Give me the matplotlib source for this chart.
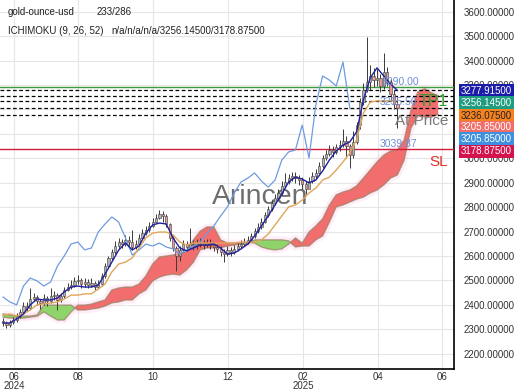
import numpy as np
import matplotlib
matplotlib.use("Agg")
import matplotlib.pyplot as plt

plt.rcParams['font.family'] = ['Liberation Sans', 'DejaVu Sans']

# candles, one per 2 bars (open = previous close)
first_open = 2335
closes = [2326, 2318, 2330, 2338, 2354, 2371, 2395, 2387, 2424, 2432,
          2416, 2408, 2428, 2416, 2436, 2440, 2420, 2436, 2461, 2473,
          2481, 2498, 2502, 2485, 2494, 2481, 2490, 2473, 2485, 2518,
          2559, 2592, 2616, 2641, 2657, 2649, 2666, 2657, 2637, 2649,
          2674, 2694, 2706, 2723, 2739, 2756, 2772, 2764, 2731, 2674,
          2633, 2600, 2625, 2649, 2637, 2649, 2641, 2649, 2653, 2645,
          2653, 2645, 2637, 2629, 2616, 2608, 2625, 2616, 2629, 2641,
          2649, 2657, 2666, 2682, 2702, 2719, 2739, 2768, 2792, 2817,
          2837, 2858, 2887, 2903, 2919, 2928, 2919, 2911, 2895, 2874,
          2907, 2928, 2940, 2968, 3001, 3018, 3034, 3026, 3046, 3054,
          3071, 3050, 3013, 3067, 3136, 3230, 3280, 3312, 3337, 3320,
          3329, 3296, 3353, 3312, 3263, 3222, 3206]
highs = [2345, 2334, 2340, 2352, 2366, 2385, 2410, 2412, 2469, 2448,
         2440, 2425, 2445, 2438, 2469, 2455, 2450, 2450, 2475, 2490,
         2500, 2515, 2522, 2510, 2512, 2505, 2508, 2498, 2500, 2530,
         2570, 2600, 2628, 2660, 2672, 2668, 2685, 2680, 2706, 2665,
         2690, 2712, 2722, 2740, 2755, 2770, 2790, 2785, 2770, 2735,
         2680, 2640, 2640, 2665, 2660, 2715, 2665, 2668, 2672, 2665,
         2670, 2668, 2655, 2648, 2640, 2628, 2640, 2635, 2645, 2655,
         2665, 2672, 2682, 2695, 2715, 2735, 2755, 2780, 2805, 2830,
         2855, 2875, 2905, 2940, 2935, 2945, 2942, 2930, 2925, 2905,
         2925, 2945, 2958, 2985, 3015, 3035, 3055, 3050, 3060, 3075,
         3120, 3090, 3060, 3110, 3150, 3245, 3310, 3496, 3380, 3370,
         3365, 3345, 3431, 3375, 3325, 3280, 3250]
lows = [2315, 2305, 2308, 2322, 2330, 2348, 2365, 2376, 2380, 2415,
        2400, 2385, 2398, 2394, 2408, 2420, 2380, 2412, 2428, 2455,
        2465, 2475, 2485, 2470, 2475, 2468, 2472, 2460, 2465, 2478,
        2510, 2552, 2585, 2610, 2630, 2632, 2640, 2642, 2625, 2628,
        2645, 2668, 2688, 2700, 2718, 2735, 2750, 2740, 2720, 2660,
        2620, 2540, 2580, 2615, 2622, 2630, 2625, 2630, 2635, 2628,
        2635, 2630, 2620, 2612, 2600, 2575, 2600, 2600, 2608, 2622,
        2632, 2640, 2648, 2660, 2675, 2695, 2712, 2735, 2760, 2785,
        2810, 2830, 2850, 2878, 2895, 2905, 2900, 2890, 2875, 2855,
        2880, 2900, 2915, 2935, 2960, 2995, 3010, 3005, 3018, 3030,
        3045, 3000, 2960, 3000, 3060, 3120, 3220, 3270, 3280, 3290,
        3295, 3270, 3285, 3295, 3240, 3200, 3124]

# ichimoku lines, one point per 4 bars
tenkan = [2326, 2326, 2342, 2363, 2400, 2424, 2420, 2420, 2428, 2453,
          2473, 2477, 2473, 2473, 2481, 2526, 2575, 2624, 2653, 2625,
          2641, 2694, 2727, 2735, 2731, 2674, 2633, 2621, 2633, 2645,
          2645, 2649, 2633, 2608, 2612, 2629, 2649, 2682, 2723, 2764,
          2809, 2854, 2903, 2923, 2915, 2899, 2911, 2948, 2993, 3030,
          3054, 3067, 3108, 3239, 3329, 3370, 3337, 3304, 3277.915]
kijun = [2358, 2363, 2354, 2363, 2379, 2400, 2404, 2408, 2412, 2424,
         2440, 2440, 2445, 2445, 2465, 2485, 2535, 2567, 2575, 2592,
         2633, 2674, 2694, 2698, 2698, 2686, 2657, 2645, 2653, 2653,
         2653, 2653, 2653, 2653, 2653, 2657, 2657, 2657, 2666, 2690,
         2727, 2764, 2801, 2809, 2829, 2858, 2878, 2911, 2923, 2952,
         2985, 3022, 3075, 3185, 3230, 3235, 3235, 3235, 3236.075]
chikou = [2432, 2412, 2400, 2477, 2510, 2498, 2477, 2494, 2559, 2600,
          2649, 2657, 2625, 2633, 2698, 2731, 2760, 2739, 2674, 2604,
          2625, 2649, 2641, 2653, 2637, 2629, 2608, 2625, 2641, 2657,
          2694, 2723, 2764, 2801, 2858, 2903, 2919, 2940, 2907, 2882,
          2911, 2993, 3026, 3034, 3136, 3001, 3218, 3337, 3320, 3296,
          3394, 3205.85]
span_a = [2350, 2346, 2346, 2346, 2350, 2354, 2371, 2354, 2338, 2338,
          2371, 2399, 2399, 2403, 2412, 2420, 2461, 2469, 2473, 2473,
          2485, 2518, 2567, 2596, 2600, 2604, 2612, 2616, 2666, 2702,
          2719, 2719, 2666, 2653, 2653, 2653, 2657, 2653, 2637, 2629,
          2625, 2629, 2649, 2674, 2653, 2698, 2723, 2752, 2809, 2850,
          2862, 2870, 2887, 2919, 2952, 2985, 3013, 3030, 3034, 3075,
          3198, 3271, 3285, 3268, 3256.145]
span_b = [2363, 2358, 2354, 2354, 2354, 2358, 2399, 2399, 2399, 2399,
          2399, 2379, 2379, 2383, 2387, 2395, 2408, 2412, 2420, 2420,
          2445, 2461, 2498, 2514, 2522, 2526, 2522, 2543, 2575, 2625,
          2633, 2633, 2633, 2641, 2645, 2649, 2649, 2666, 2666, 2666,
          2666, 2666, 2662, 2637, 2641, 2641, 2666, 2682, 2739, 2801,
          2809, 2821, 2833, 2841, 2858, 2870, 2891, 2919, 2932, 2993,
          3124, 3173, 3169, 3169, 3178.875]

levels = [3277.915, 3256.145, 3236.075, 3205.85, 3178.875]
tp1 = 3290.00
sl = 3039.87

price_ticks = [2200, 2300, 2400, 2500, 2600, 2700, 2800, 2900, 3000, 3300, 3400, 3500, 3600]

value_labels = ['3277.91500', '3256.14500', '3236.07500', '3205.85000', '3205.85000', '3178.87500']
value_colors = ['#1c1caa', '#1f9d80', '#f58220', '#f06e6a', '#3d8fe0', '#d4124e']
value_text = ['white', 'white', '#222222', 'white', 'white', 'white']

month_ticks = [6.5, 44.1, 88.2, 132.4, 176.5, 220.6, 258.2]
month_labels = ['06\n2024', '08', '10', '12', '02\n2025', '04', '06']

candle_x = np.arange(len(closes)) * 2
line_x = np.arange(len(tenkan)) * 4
chikou_x = np.arange(len(chikou)) * 4
cloud_x = np.arange(len(span_a)) * 4

fig = plt.figure(figsize=(5.2, 3.9), dpi=100)
ax = fig.add_axes([0, 1 - 369 / 390, 454 / 520, 369 / 390])
ax.set_xlim(-1.8, 265.3)
ax.set_ylim(2137.5, 3647.9)

ax.grid(color='#e6e6e6', lw=0.8, zorder=0)
ax.set_axisbelow(True)

# watermark
ax.text(212 / 454, 1 - 204 / 369, 'Arincen', transform=ax.transAxes, fontsize=20.5,
        color='#555555', alpha=0.85, va='baseline', ha='left', zorder=1)

# cloud
a = np.array(span_a)
b = np.array(span_b)
ax.plot(cloud_x, a, color='#ffc8ea', lw=5, alpha=0.3, zorder=1.5, solid_capstyle='butt')
ax.plot(cloud_x, b, color='#ffc8ea', lw=5, alpha=0.3, zorder=1.5, solid_capstyle='butt')
ax.fill_between(cloud_x, a, b, where=a >= b, interpolate=True, color='#f26d6d', lw=0, zorder=2)
ax.fill_between(cloud_x, a, b, where=a < b, interpolate=True, color='#8fd46a', lw=0, zorder=2)
ax.plot(cloud_x, a, color='#9a8466', lw=1.0, alpha=0.75, zorder=2.2)
ax.plot(cloud_x, b, color='#9a8466', lw=1.0, alpha=0.75, zorder=2.2)

# levels
ax.axhline(tp1, color='#3c9c3c', lw=1.0, zorder=3)
ax.axhline(sl, color='#d21e3c', lw=1.0, zorder=3)
for lv in levels:
    ax.axhline(lv, color='black', lw=0.9, dashes=(3, 2), zorder=3)

# candles
opens = [first_open] + closes[:-1]
o = np.array(opens)
c = np.array(closes)
ax.vlines(candle_x, lows, highs, color='#3a3a3a', lw=0.7, zorder=4)
up = c >= o
ax.bar(candle_x[up], (c - o)[up], bottom=o[up], width=1.3, color='#b4b4b4',
       edgecolor='#3a3a3a', lw=0.4, zorder=4.5)
ax.bar(candle_x[~up], (o - c)[~up], bottom=c[~up], width=1.3, color='#e89a9a',
       edgecolor='#3a3a3a', lw=0.4, zorder=4.5)

# ichimoku lines
ax.plot(chikou_x, chikou, color='#6f9be0', lw=0.9, zorder=5)
ax.plot(line_x, kijun, color='#e0a55a', lw=1.0, zorder=5)
ax.plot(line_x, tenkan, color='#20209c', lw=1.0, zorder=5.5)

# annotations
ax.text(382 / 454, 1 - 82 / 369, '3290.00', transform=ax.transAxes, fontsize=7.5,
        color='#6f8fd6', va='center', zorder=6)
ax.text(380 / 454, 1 - 102 / 369, '3255.56', transform=ax.transAxes, fontsize=7.5,
        color='#6f8fd6', va='center', zorder=6)
ax.text(380 / 454, 1 - 144 / 369, '3039.87', transform=ax.transAxes, fontsize=7.5,
        color='#6f8fd6', va='center', zorder=6)
ax.text(448 / 454, 1 - 101 / 369, 'TP1', transform=ax.transAxes, fontsize=11.5,
        color='#2f9e2f', va='center', ha='right', zorder=7)
ax.text(448 / 454, 1 - 121 / 369, 'At Price', transform=ax.transAxes, fontsize=11,
        color='#7a7a7a', va='center', ha='right', zorder=7)
ax.text(448 / 454, 1 - 162 / 369, 'SL', transform=ax.transAxes, fontsize=11,
        color='#e0302a', va='center', ha='right', zorder=7)

# axes styling
for s in ['top', 'left']:
    ax.spines[s].set_visible(False)
for s in ['right', 'bottom']:
    ax.spines[s].set_color('black')
    ax.spines[s].set_linewidth(1.2)
ax.yaxis.tick_right()
ax.set_yticks(np.arange(2200, 3700, 100), minor=False)
ax.set_yticklabels([f'{v:.5f}' if v in price_ticks else '' for v in np.arange(2200, 3700, 100)])
ax.set_xticks(month_ticks)
ax.set_xticklabels(month_labels, linespacing=0.95)
ax.tick_params(axis='y', length=0, pad=7, labelsize=7, labelcolor='#333333')
ax.tick_params(axis='x', length=0, pad=2, labelsize=7, labelcolor='#333333')

# header
fig.text(8 / 520, 1 - 12 / 390, 'gold-ounce-usd', fontsize=7, color='#222222', va='center')
fig.text(97 / 520, 1 - 12 / 390, '233/286', fontsize=7, color='#222222', va='center')
fig.text(8 / 520, 1 - 31 / 390, 'ICHIMOKU (9, 26, 52)', fontsize=7, color='#222222', va='center')
fig.text(111 / 520, 1 - 31 / 390, 'n/a/n/a/n/a/3256.14500/3178.87500', fontsize=7,
         color='#222222', va='center')

# value boxes on the price axis
box_y = [90.5, 103, 116, 127.5, 139, 151.5]
for lab, col, tc, yy in zip(value_labels, value_colors, value_text, box_y):
    fig.text(461 / 520, 1 - yy / 390, lab, fontsize=7, color=tc, va='center', ha='left',
             bbox=dict(boxstyle='square,pad=0.18', facecolor=col, edgecolor='none'))

fig.savefig('out.png', dpi=100)
